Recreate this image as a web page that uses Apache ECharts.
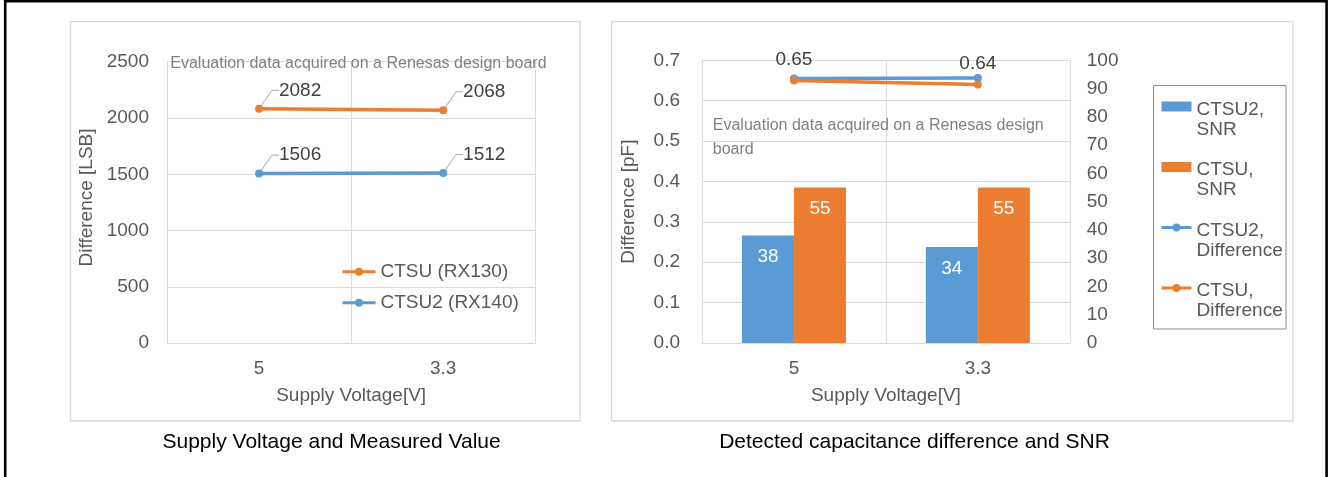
<!DOCTYPE html>
<html>
<head>
<meta charset="utf-8">
<script src="https://cdn.jsdelivr.net/npm/echarts@6/dist/echarts.min.js"></script>
<style>
  html, body { margin: 0; padding: 0; background: #ffffff; }
  #chart { width: 1328px; height: 477px; }
</style>
</head>
<body>
<div id="chart"></div>
<script>
// Supply voltage categories shared by both panels
const voltages = ['5', '3.3'];

// Left panel: measured difference [LSB]
const ctsuRX130 = [2082, 2068];
const ctsu2RX140 = [1506, 1512];
const lsbAxis = { min: 0, max: 2500, interval: 500 };

// Right panel: SNR bars (right axis) and capacitance difference lines (left axis, pF)
const snrCTSU2 = [38, 34];
const snrCTSU = [55, 55];
const diffCTSU2 = [0.655, 0.656];
const diffCTSU = [0.65, 0.64];
const pfAxis = { min: 0, max: 0.7, interval: 0.1 };
const snrAxis = { min: 0, max: 100, interval: 10 };

const BLUE = '#5B9BD5';
const ORANGE = '#ED7D31';
const GRID = '#D9D9D9';
const AXIS_TEXT = '#595959';
const FONT = 'Liberation Sans, Arial, sans-serif';

const chart = echarts.init(document.getElementById('chart'), null, { renderer: 'canvas' });

function catAxis(gridIndex, nameGap) {
  return {
    type: 'category',
    gridIndex: gridIndex,
    data: voltages,
    boundaryGap: true,
    axisLine: { show: true, lineStyle: { color: GRID, width: 1 } },
    axisTick: { show: false },
    axisLabel: { color: AXIS_TEXT, fontSize: 19, fontFamily: FONT, margin: 16 },
    splitLine: { show: true, lineStyle: { color: GRID, width: 1 } },
    name: 'Supply Voltage[V]',
    nameLocation: 'middle',
    nameGap: nameGap,
    nameTextStyle: { color: AXIS_TEXT, fontSize: 19, fontFamily: FONT }
  };
}

function valAxis(extra) {
  return Object.assign({
    type: 'value',
    axisLine: { show: false },
    axisTick: { show: false },
    splitLine: { show: true, lineStyle: { color: GRID, width: 1 } }
  }, extra);
}

const plainNumber = function (v) { return String(v); };
const lineLabelLayout = { dx: 41, dy: -18.5 };
const legendLine = { width: 3 };

const option = {
  animation: false,
  backgroundColor: '#ffffff',
  textStyle: { fontFamily: FONT },
  grid: [
    { left: 167, top: 61.7, width: 368.3, height: 281.5 },
    { left: 702, top: 60.3, width: 367.8, height: 282.7 }
  ],
  xAxis: [catAxis(0, 43), catAxis(1, 43)],
  yAxis: [
    valAxis({
      gridIndex: 0, min: lsbAxis.min, max: lsbAxis.max, interval: lsbAxis.interval,
      axisLabel: { color: AXIS_TEXT, fontSize: 19, fontFamily: FONT, margin: 18, formatter: plainNumber },
      name: 'Difference [LSB]', nameLocation: 'middle', nameRotate: 90, nameGap: 71,
      nameTextStyle: { color: AXIS_TEXT, fontSize: 19, fontFamily: FONT, padding: [0, 0, 0, 10] }
    }),
    valAxis({
      gridIndex: 1, min: pfAxis.min, max: pfAxis.max, interval: pfAxis.interval,
      axisLabel: { color: AXIS_TEXT, fontSize: 19, fontFamily: FONT, margin: 22,
        formatter: function (v) { return v.toFixed(1); } },
      name: 'Difference [pF]', nameLocation: 'middle', nameRotate: 90, nameGap: 64,
      nameTextStyle: { color: AXIS_TEXT, fontSize: 19, fontFamily: FONT }
    }),
    valAxis({
      gridIndex: 1, position: 'right', min: snrAxis.min, max: snrAxis.max, interval: snrAxis.interval,
      splitLine: { show: false },
      axisLabel: { color: AXIS_TEXT, fontSize: 19, fontFamily: FONT, margin: 17, formatter: plainNumber }
    })
  ],
  legend: [
    {
      orient: 'vertical', left: 341, top: 261.7, padding: 0,
      itemWidth: 33, itemHeight: 10, itemGap: 11, selectedMode: false,
      data: ['CTSU (RX130)', 'CTSU2 (RX140)'],
      lineStyle: legendLine,
      textStyle: { color: AXIS_TEXT, fontSize: 19, fontFamily: FONT, lineHeight: 20 }
    },
    {
      orient: 'vertical', left: 1160, top: 73.5, padding: 0,
      itemWidth: 30, itemHeight: 10, itemGap: -5.5, selectedMode: false,
      data: [
        { name: 'CTSU2,\nSNR', icon: 'rect' },
        { name: 'CTSU,\nSNR', icon: 'rect' },
        { name: 'CTSU2,\nDifference' },
        { name: 'CTSU,\nDifference' }
      ],
      lineStyle: legendLine,
      // a spacer row keeps each icon level with the first line of its two-line name
      formatter: function (name) { return '{pad| }\n' + name; },
      textStyle: {
        color: AXIS_TEXT, fontSize: 19, fontFamily: FONT, lineHeight: 20,
        rich: { pad: { lineHeight: 26, fontSize: 10 } }
      }
    }
  ],
  series: [
    {
      name: 'CTSU2 (RX140)', type: 'line', xAxisIndex: 0, yAxisIndex: 0,
      data: ctsu2RX140, symbol: 'circle', symbolSize: 8,
      itemStyle: { color: BLUE }, lineStyle: { color: BLUE, width: 3.5 },
      label: { show: true, position: 'inside', color: '#404040', fontSize: 19, fontFamily: FONT },
      labelLayout: lineLabelLayout,
      labelLine: { show: true, length2: 7, lineStyle: { color: '#A6A6A6', width: 1 } },
      z: 3
    },
    {
      name: 'CTSU (RX130)', type: 'line', xAxisIndex: 0, yAxisIndex: 0,
      data: ctsuRX130, symbol: 'circle', symbolSize: 8,
      itemStyle: { color: ORANGE }, lineStyle: { color: ORANGE, width: 3.5 },
      label: { show: true, position: 'inside', color: '#404040', fontSize: 19, fontFamily: FONT },
      labelLayout: lineLabelLayout,
      labelLine: { show: true, length2: 7, lineStyle: { color: '#A6A6A6', width: 1 } },
      z: 3
    },
    {
      name: 'CTSU2,\nSNR', type: 'bar', xAxisIndex: 1, yAxisIndex: 2,
      data: snrCTSU2, barWidth: 52, barGap: '0%',
      itemStyle: { color: BLUE },
      label: { show: true, position: 'insideTop', distance: 12, color: '#ffffff', fontSize: 19, fontFamily: FONT }
    },
    {
      name: 'CTSU,\nSNR', type: 'bar', xAxisIndex: 1, yAxisIndex: 2,
      data: snrCTSU, barWidth: 52, barGap: '0%',
      itemStyle: { color: ORANGE },
      label: { show: true, position: 'insideTop', distance: 12, color: '#ffffff', fontSize: 19, fontFamily: FONT }
    },
    {
      name: 'CTSU2,\nDifference', type: 'line', xAxisIndex: 1, yAxisIndex: 1,
      data: diffCTSU2, symbol: 'circle', symbolSize: 8,
      itemStyle: { color: BLUE }, lineStyle: { color: BLUE, width: 3.5 },
      z: 3
    },
    {
      name: 'CTSU,\nDifference', type: 'line', xAxisIndex: 1, yAxisIndex: 1,
      data: diffCTSU, symbol: 'circle', symbolSize: 8,
      itemStyle: { color: ORANGE }, lineStyle: { color: ORANGE, width: 3.5 },
      label: { show: true, position: 'top', distance: 7, color: '#404040', fontSize: 19, fontFamily: FONT,
        formatter: function (p) { return p.value.toFixed(2); } },
      z: 4
    }
  ],
  graphic: [
    // outer frame (open at the bottom)
    { type: 'polyline', silent: true, z: 10,
      shape: { points: [[5.2, 477], [5.2, 1.3], [1326.6, 1.3], [1326.6, 477]] },
      style: { stroke: '#000000', lineWidth: 2.6, fill: null } },
    // panel borders
    { type: 'rect', silent: true, z: -1,
      shape: { x: 70.5, y: 21.7, width: 509.5, height: 399.3 },
      style: { stroke: GRID, lineWidth: 1.3, fill: null } },
    { type: 'rect', silent: true, z: -1,
      shape: { x: 611.6, y: 21.7, width: 681.4, height: 399.3 },
      style: { stroke: GRID, lineWidth: 1.3, fill: null } },
    // right legend frame
    { type: 'rect', silent: true, z: 1,
      shape: { x: 1153.5, y: 85.5, width: 132.5, height: 243.5 },
      style: { stroke: '#8C8C8C', lineWidth: 1, fill: null } },
    // notes inside the plot areas
    { type: 'text', silent: true, z: 5,
      style: { text: 'Evaluation data acquired on a Renesas design board', x: 170.3, y: 63.3,
        fontSize: 16, fontFamily: FONT, fill: '#808080', verticalAlign: 'middle', align: 'left' } },
    { type: 'text', silent: true, z: 5,
      style: { text: 'Evaluation data acquired on a Renesas design\nboard', x: 712.8, y: 114.2,
        fontSize: 16, fontFamily: FONT, lineHeight: 23.7, fill: '#808080', verticalAlign: 'top', align: 'left' } },
    // captions below the panels
    { type: 'text', silent: true, z: 5,
      style: { text: 'Supply Voltage and Measured Value', x: 331.6, y: 442.7,
        fontSize: 21, fontFamily: FONT, fill: '#000000', verticalAlign: 'middle', align: 'center' } },
    { type: 'text', silent: true, z: 5,
      style: { text: 'Detected capacitance difference and SNR', x: 914.5, y: 442.7,
        fontSize: 21, fontFamily: FONT, fill: '#000000', verticalAlign: 'middle', align: 'center' } }
  ]
};

chart.setOption(option);
</script>
</body>
</html>
